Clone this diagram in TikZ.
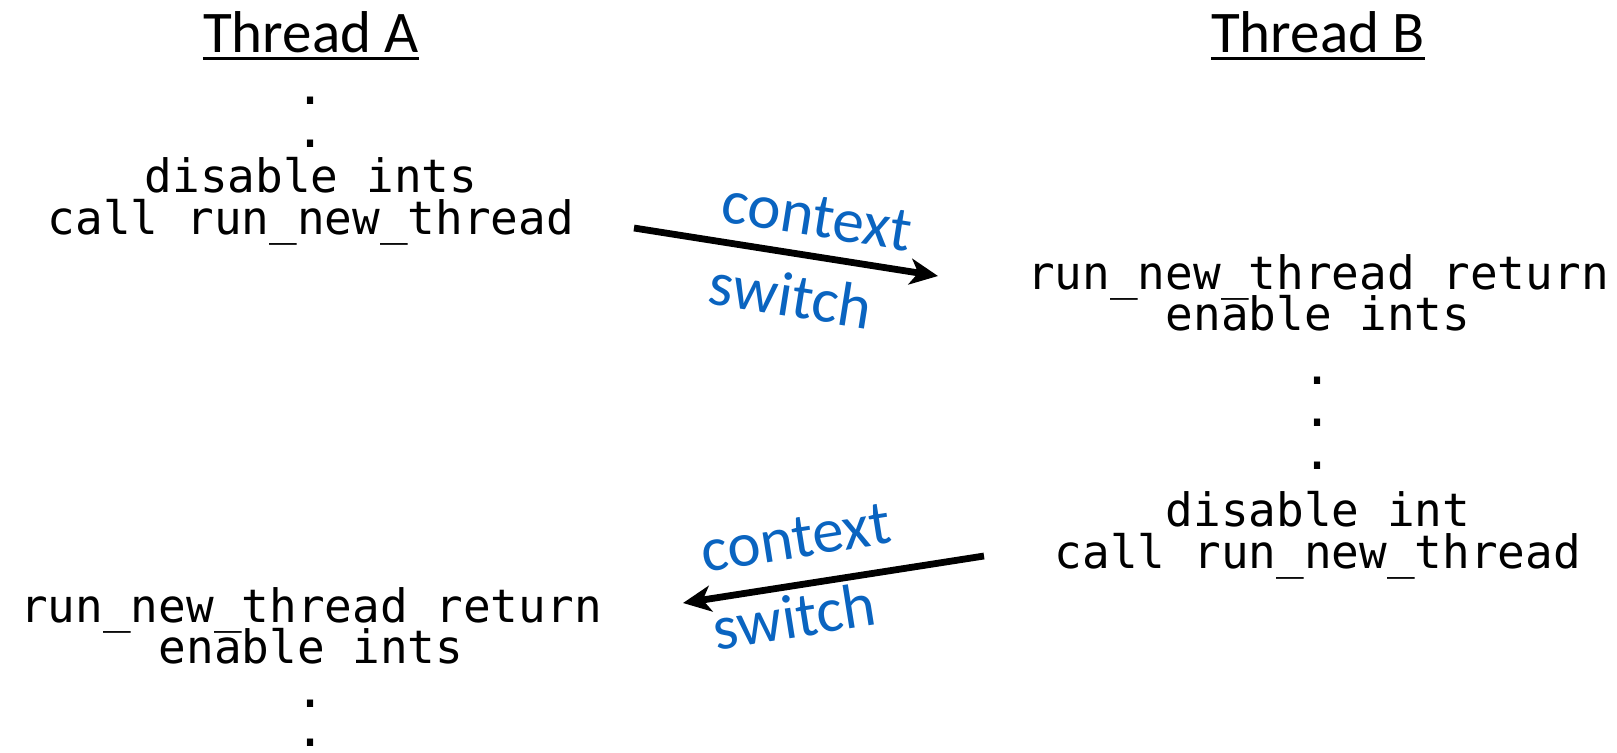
\documentclass[tikz,border=0pt]{standalone}
\usepackage{fontspec}
\setmainfont{Carlito}
\newfontfamily\codefont{DejaVu Sans Mono}
\usetikzlibrary{arrows.meta}
\definecolor{labelblue}{RGB}{10,100,192}
\tikzset{
  heading/.style={inner sep=0pt, anchor=base, font=\fontsize{29.5}{34}\selectfont},
  code/.style={inner sep=0pt, anchor=base, font=\codefont\fontsize{23}{26}\selectfont},
  dotline/.style={inner sep=0pt, anchor=center, font=\codefont\fontsize{25}{28}\selectfont},
  switchlabel/.style={inner sep=0pt, anchor=center, text=labelblue, font=\fontsize{31.5}{36}\selectfont},
  switcharrow/.style={line width=3.4pt, -{Stealth[length=14pt, width=13pt, inset=4pt]}},
  headrule/.style={line width=1.5pt}
}
\begin{document}
\begin{tikzpicture}[x=0.5pt, y=-0.5pt]
\useasboundingbox (0,0) rectangle (1617,752);

% Thread A column
\node[heading] (hA) at (311,52) {Thread A};
\draw[headrule] ([yshift=-3pt]hA.base west) -- ([yshift=-3pt]hA.base east);
\node[dotline] (a1) at (311,101) {.};
\node[dotline] (a2) at (311,144) {.};
\node[code] (a3) at (311,192) {disable ints};
\node[code] (a4) at (311,234) {call run\_new\_thread};

\node[code] (a5) at (311,622) {run\_new\_thread return};
\node[code] (a6) at (311,663) {enable ints};
\node[dotline] (a7) at (311,704) {.};
\node[dotline] (a8) at (311,743) {.};

% Thread B column
\node[heading] (hB) at (1318,52) {Thread B};
\draw[headrule] ([yshift=-3pt]hB.base west) -- ([yshift=-3pt]hB.base east);
\node[code] (b1) at (1318,289) {run\_new\_thread return};
\node[code] (b2) at (1318,330) {enable ints};
\node[dotline] (b3) at (1318,381) {.};
\node[dotline] (b4) at (1318,423) {.};
\node[dotline] (b5) at (1318,466) {.};
\node[code] (b6) at (1318,526) {disable int};
\node[code] (b7) at (1318,568) {call run\_new\_thread};

% context switches
\coordinate (s1from) at (634,228);
\coordinate (s1to) at (938,276);
\draw[switcharrow] (s1from) -- (s1to);
\node[switchlabel, rotate=-9] (c1) at (817,217) {context};
\node[switchlabel, rotate=-9] (w1) at (791,295) {switch};

\coordinate (s2from) at (984,556);
\coordinate (s2to) at (683,603);
\draw[switcharrow] (s2from) -- (s2to);
\node[switchlabel, rotate=9] (c2) at (796,538) {context};
\node[switchlabel, rotate=9] (w2) at (794,616) {switch};
\end{tikzpicture}
\end{document}
